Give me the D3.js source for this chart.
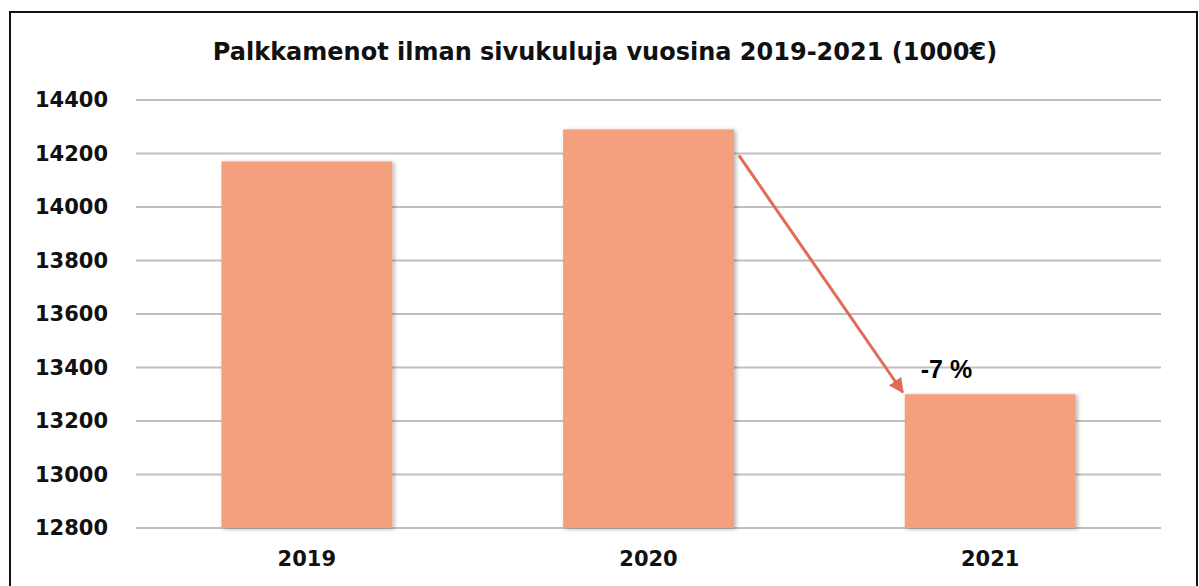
<!DOCTYPE html>
<html>
<head>
<meta charset="utf-8">
<script src="https://cdn.jsdelivr.net/npm/d3@7"></script>
<style>
  body { margin: 0; background: #fff; }
  svg { display: block; }
</style>
</head>
<body>
<div id="chart"></div>
<script>
// data
const years = ['2019', '2020', '2021'];
const values = [14170, 14290, 13300];
const yTicks = [12800, 13000, 13200, 13400, 13600, 13800, 14000, 14200, 14400];
const title = 'Palkkamenot ilman sivukuluja vuosina 2019-2021 (1000€)';
const changeLabel = '-7 %';

const w = 1199, h = 586;
const margin = {top: 100, right: 38, bottom: 58, left: 136};

const svg = d3.select('#chart').append('svg')
  .attr('width', w)
  .attr('height', h);

// shadow for bars
const defs = svg.append('defs');
const shadow = defs.append('filter').attr('id', 'shadow')
  .attr('x', '-10%').attr('y', '-10%').attr('width', '125%').attr('height', '125%');
shadow.append('feDropShadow')
  .attr('dx', 2).attr('dy', 1).attr('stdDeviation', 2)
  .attr('flood-color', '#000').attr('flood-opacity', 0.3);

const marker = defs.append('marker').attr('id', 'arrowhead')
  .attr('viewBox', '0 0 10 10').attr('refX', 9).attr('refY', 5)
  .attr('markerWidth', 5).attr('markerHeight', 5)
  .attr('markerUnits', 'strokeWidth')
  .attr('orient', 'auto');
marker.append('path').attr('d', 'M0,0 L10,5 L0,10 z').attr('fill', '#e26b58');

// outer frame
svg.append('rect')
  .attr('x', 10).attr('y', 12)
  .attr('width', 1187).attr('height', 600)
  .attr('fill', 'none')
  .attr('stroke', '#111').attr('stroke-width', 2);

const x = d3.scaleBand()
  .domain(years)
  .range([margin.left, w - margin.right])
  .paddingInner(0.5)
  .paddingOuter(0.25);

const y = d3.scaleLinear()
  .domain([12800, 14400])
  .range([h - margin.bottom, margin.top]);

// gridlines
svg.append('g')
  .selectAll('line')
  .data(yTicks)
  .enter()
  .append('line')
  .attr('x1', margin.left)
  .attr('x2', w - margin.right)
  .attr('y1', d => y(d))
  .attr('y2', d => y(d))
  .attr('stroke', '#bfbfbf')
  .attr('stroke-width', 2);

// y axis labels
const yAxis = d3.axisLeft(y).tickValues(yTicks).tickSize(0).tickPadding(28).tickFormat(d3.format('d'));
svg.append('g')
  .attr('transform', `translate(${margin.left},0)`)
  .call(yAxis)
  .call(g => g.select('.domain').remove())
  .selectAll('text')
  .attr('font-family', 'DejaVu Sans, Verdana, sans-serif')
  .attr('font-weight', 'bold')
  .attr('font-size', '21px')
  .attr('fill', '#111');

// x axis labels
const xAxis = d3.axisBottom(x).tickSize(0).tickPadding(23);
svg.append('g')
  .attr('transform', `translate(0,${h - margin.bottom})`)
  .call(xAxis)
  .call(g => g.select('.domain').remove())
  .selectAll('text')
  .attr('font-family', 'DejaVu Sans, Verdana, sans-serif')
  .attr('font-weight', 'bold')
  .attr('font-size', '21px')
  .attr('fill', '#111');

// bars
svg.append('g')
  .selectAll('rect')
  .data(values)
  .enter()
  .append('rect')
  .attr('x', (d, i) => x(years[i]))
  .attr('y', d => y(d))
  .attr('width', x.bandwidth())
  .attr('height', d => y(12800) - y(d))
  .attr('fill', '#f4a07d')
  .attr('filter', 'url(#shadow)');

// title
svg.append('text')
  .attr('x', 605)
  .attr('y', 60)
  .attr('text-anchor', 'middle')
  .attr('font-family', 'DejaVu Sans, Verdana, sans-serif')
  .attr('font-weight', 'bold')
  .attr('font-size', '24px')
  .attr('fill', '#111')
  .text(title);

// change arrow from 2020 to 2021
const x0 = x('2020') + x.bandwidth() + 5;
const y0 = y(values[1]) + 26;
const x1 = x('2021') - 2;
const y1 = y(values[2]) - 2;
svg.append('line')
  .attr('x1', x0).attr('y1', y0)
  .attr('x2', x1).attr('y2', y1)
  .attr('stroke', '#e26b58')
  .attr('stroke-width', 3)
  .attr('marker-end', 'url(#arrowhead)');

svg.append('text')
  .attr('x', x('2021') + 16)
  .attr('y', y(values[2]) - 16)
  .attr('font-family', 'Liberation Sans, Arial, sans-serif')
  .attr('font-weight', 'bold')
  .attr('font-size', '25px')
  .attr('fill', '#000')
  .text(changeLabel);
</script>
</body>
</html>
